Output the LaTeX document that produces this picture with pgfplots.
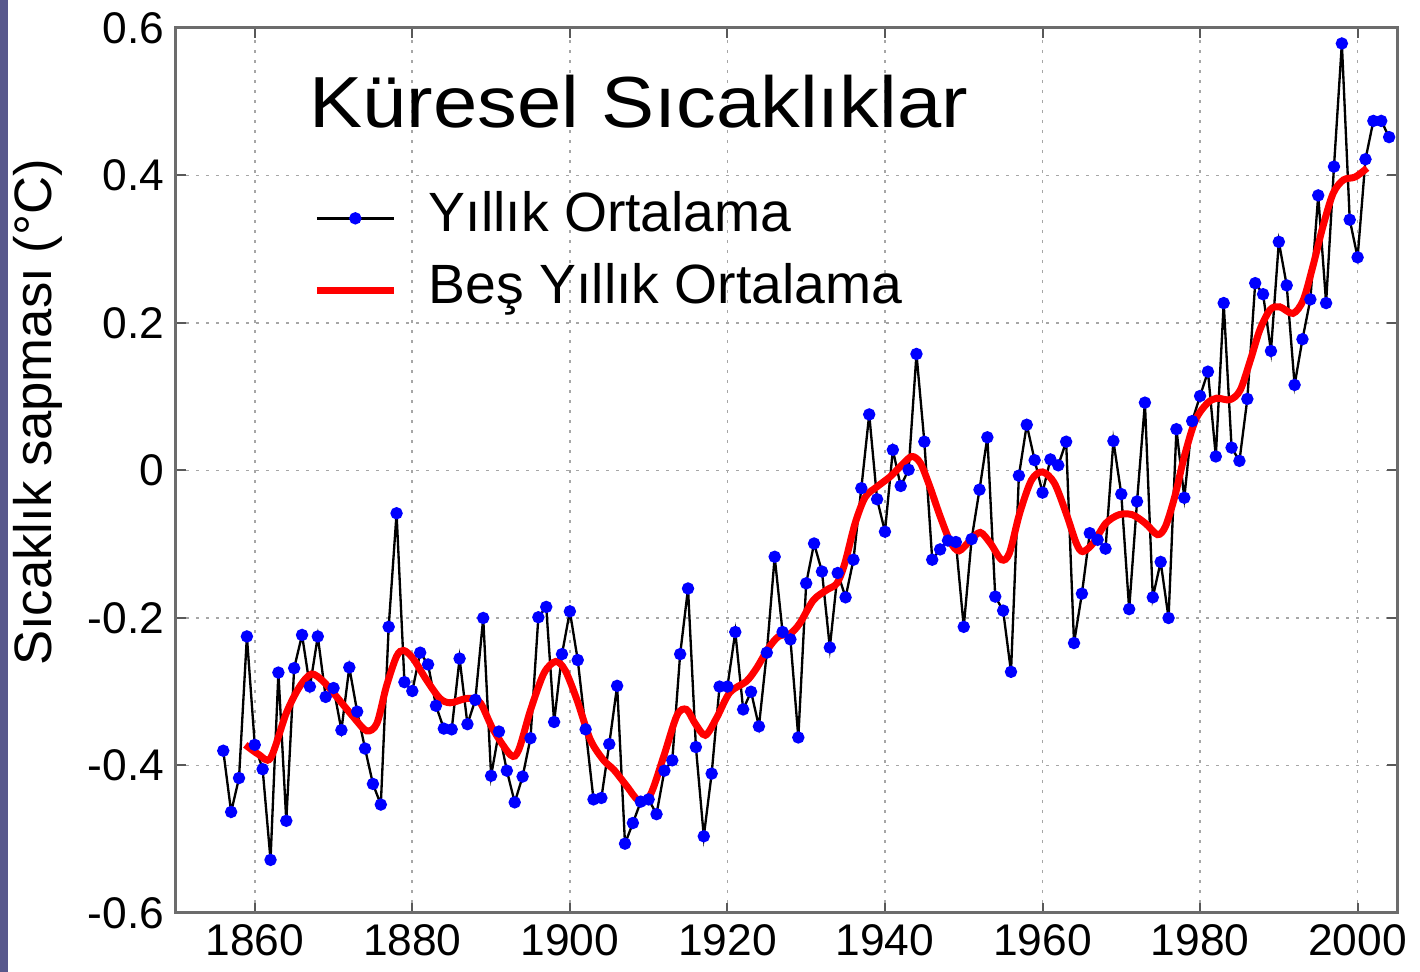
\documentclass[border=0pt]{standalone}
\usepackage{pgfplots}
\usepackage{pgfplotstable}
\pgfplotsset{compat=1.18}
\usepackage{fontspec}
\setmainfont{Liberation Sans}
\newfontfamily\titlefont[FakeStretch=1.1]{Liberation Sans}
\definecolor{strip}{RGB}{88,88,140}

\pgfplotstableread{
year val
1856 -0.380
1857 -0.463
1858 -0.417
1859 -0.225
1860 -0.372
1861 -0.405
1862 -0.528
1863 -0.274
1864 -0.475
1865 -0.268
1866 -0.223
1867 -0.293
1868 -0.225
1869 -0.307
1870 -0.295
1871 -0.352
1872 -0.267
1873 -0.327
1874 -0.377
1875 -0.425
1876 -0.453
1877 -0.212
1878 -0.058
1879 -0.287
1880 -0.299
1881 -0.247
1882 -0.263
1883 -0.319
1884 -0.350
1885 -0.351
1886 -0.255
1887 -0.344
1888 -0.311
1889 -0.200
1890 -0.414
1891 -0.354
1892 -0.407
1893 -0.450
1894 -0.415
1895 -0.363
1896 -0.199
1897 -0.185
1898 -0.341
1899 -0.249
1900 -0.191
1901 -0.257
1902 -0.351
1903 -0.446
1904 -0.444
1905 -0.371
1906 -0.292
1907 -0.506
1908 -0.478
1909 -0.449
1910 -0.446
1911 -0.466
1912 -0.407
1913 -0.393
1914 -0.249
1915 -0.160
1916 -0.375
1917 -0.496
1918 -0.411
1919 -0.293
1920 -0.293
1921 -0.219
1922 -0.324
1923 -0.300
1924 -0.347
1925 -0.247
1926 -0.117
1927 -0.219
1928 -0.229
1929 -0.362
1930 -0.153
1931 -0.099
1932 -0.137
1933 -0.240
1934 -0.139
1935 -0.172
1936 -0.121
1937 -0.024
1938 0.076
1939 -0.039
1940 -0.083
1941 0.028
1942 -0.021
1943 0.001
1944 0.158
1945 0.039
1946 -0.121
1947 -0.107
1948 -0.095
1949 -0.097
1950 -0.212
1951 -0.093
1952 -0.026
1953 0.045
1954 -0.171
1955 -0.190
1956 -0.273
1957 -0.007
1958 0.062
1959 0.014
1960 -0.030
1961 0.015
1962 0.007
1963 0.039
1964 -0.234
1965 -0.167
1966 -0.085
1967 -0.094
1968 -0.106
1969 0.040
1970 -0.032
1971 -0.188
1972 -0.042
1973 0.092
1974 -0.172
1975 -0.124
1976 -0.200
1977 0.056
1978 -0.037
1979 0.067
1980 0.101
1981 0.134
1982 0.019
1983 0.227
1984 0.031
1985 0.013
1986 0.097
1987 0.254
1988 0.239
1989 0.162
1990 0.310
1991 0.251
1992 0.116
1993 0.178
1994 0.232
1995 0.373
1996 0.227
1997 0.412
1998 0.579
1999 0.340
2000 0.289
2001 0.422
2002 0.474
2003 0.474
2004 0.452
}\annual

\pgfplotstableread{
year val
1858.8 -0.372
1860.5 -0.385
1862.0 -0.390
1864.0 -0.329
1865.7 -0.293
1867.2 -0.276
1868.7 -0.286
1870.4 -0.307
1872.5 -0.334
1874.2 -0.353
1875.5 -0.343
1876.7 -0.293
1878.0 -0.252
1878.9 -0.244
1880.1 -0.255
1881.8 -0.284
1883.5 -0.309
1884.8 -0.315
1886.5 -0.310
1887.6 -0.309
1888.7 -0.316
1890.3 -0.352
1892.5 -0.386
1893.5 -0.379
1895.0 -0.325
1896.7 -0.275
1898.2 -0.259
1899.4 -0.271
1900.9 -0.311
1902.6 -0.365
1904.3 -0.393
1905.6 -0.406
1907.3 -0.429
1908.7 -0.447
1910.2 -0.440
1911.9 -0.388
1913.6 -0.332
1914.8 -0.324
1915.9 -0.343
1917.2 -0.359
1918.6 -0.336
1920.3 -0.301
1922.4 -0.286
1923.7 -0.268
1925.2 -0.241
1926.5 -0.225
1928.0 -0.221
1929.2 -0.207
1930.9 -0.176
1932.6 -0.162
1933.9 -0.153
1934.9 -0.126
1936.2 -0.072
1937.5 -0.036
1939.0 -0.022
1940.7 -0.008
1942.1 0.007
1943.4 0.019
1944.5 0.010
1945.7 -0.022
1947.0 -0.062
1948.3 -0.097
1949.4 -0.109
1950.8 -0.095
1952.1 -0.084
1953.4 -0.099
1954.8 -0.121
1955.8 -0.112
1957.1 -0.058
1958.6 -0.013
1960.0 -0.002
1961.5 -0.017
1963.0 -0.058
1964.3 -0.099
1965.1 -0.110
1966.4 -0.099
1968.0 -0.072
1969.7 -0.060
1971.4 -0.060
1973.1 -0.072
1974.6 -0.087
1975.6 -0.076
1976.8 -0.035
1978.0 0.019
1979.4 0.068
1980.9 0.091
1982.1 0.098
1983.8 0.096
1985.1 0.109
1986.4 0.150
1987.6 0.191
1988.9 0.218
1990.1 0.222
1991.8 0.213
1993.1 0.231
1994.3 0.276
1995.6 0.331
1996.9 0.376
1998.2 0.394
1999.7 0.398
2001.2 0.410
}\fiveyear

\begin{document}
\begin{tikzpicture}
\useasboundingbox (-52.8pt,-17.7pt) rectangle (373.2pt,273.9pt);
\fill[strip] (-52.8pt,-17.7pt) rectangle (-50.4pt,273.9pt);
\begin{axis}[
  scale only axis,
  width=366.3pt, height=265.5pt,
  xmin=1850, xmax=2005,
  ymin=-0.6, ymax=0.6,
  xtick={1860,1880,1900,1920,1940,1960,1980,2000},
  ytick={-0.6,-0.4,-0.2,0,0.2,0.4,0.6},
  tick align=inside,
  tick pos=both,
  major tick length=3pt,
  axis line style={draw=gray!85!black, line width=0.9pt},
  tick style={draw=gray!70!black, line width=0.6pt},
  grid=major,
  major grid style={draw=gray!70, line width=0.5pt, dash pattern=on 1pt off 2pt},
  /pgf/number format/assume math mode=true,
  tick label style={font=\fontsize{13.3}{15}\selectfont, black},
  x tick label style={/pgf/number format/1000 sep=},
  y tick label style={/pgf/number format/fixed, /pgf/number format/precision=1},
  ylabel={Sıcaklık sapması (°C)},
  ylabel style={font=\fontsize{15.8}{17}\selectfont, at={(axis description cs:-0.113,0.5655)}, anchor=center},
  legend style={at={(axis cs:1866.1,0.395)}, anchor=north west, draw=none, fill=none,
    font=\fontsize{16.6}{18}\selectfont,
    nodes={text height=11.6pt, text depth=3.5pt, inner sep=2pt},
    row sep=2.4pt,
    /tikz/every odd column/.append style={column sep=7.5pt}},
  legend cell align=left,
  legend image code/.code={\draw[mark repeat=2,mark phase=2,#1] plot coordinates {(0pt,0pt) (11.5pt,0pt) (23pt,0pt)};},
]
\addplot[black, line width=0.7pt, mark=*, mark size=1.5pt, mark options={draw=blue, fill=blue}] table[x=year,y=val] {\annual};
\addlegendentry{Yıllık Ortalama}
\addplot[red, line width=2.1pt, smooth, tension=0.5] table[x=year,y=val] {\fiveyear};
\addlegendentry{Beş Yıllık Ortalama}
\node[anchor=base west, inner sep=0pt, font=\titlefont\fontsize{21.7}{24}\selectfont] at (axis cs:1866.85,0.4644) {Küresel Sıcaklıklar};
\end{axis}
\end{tikzpicture}
\end{document}
